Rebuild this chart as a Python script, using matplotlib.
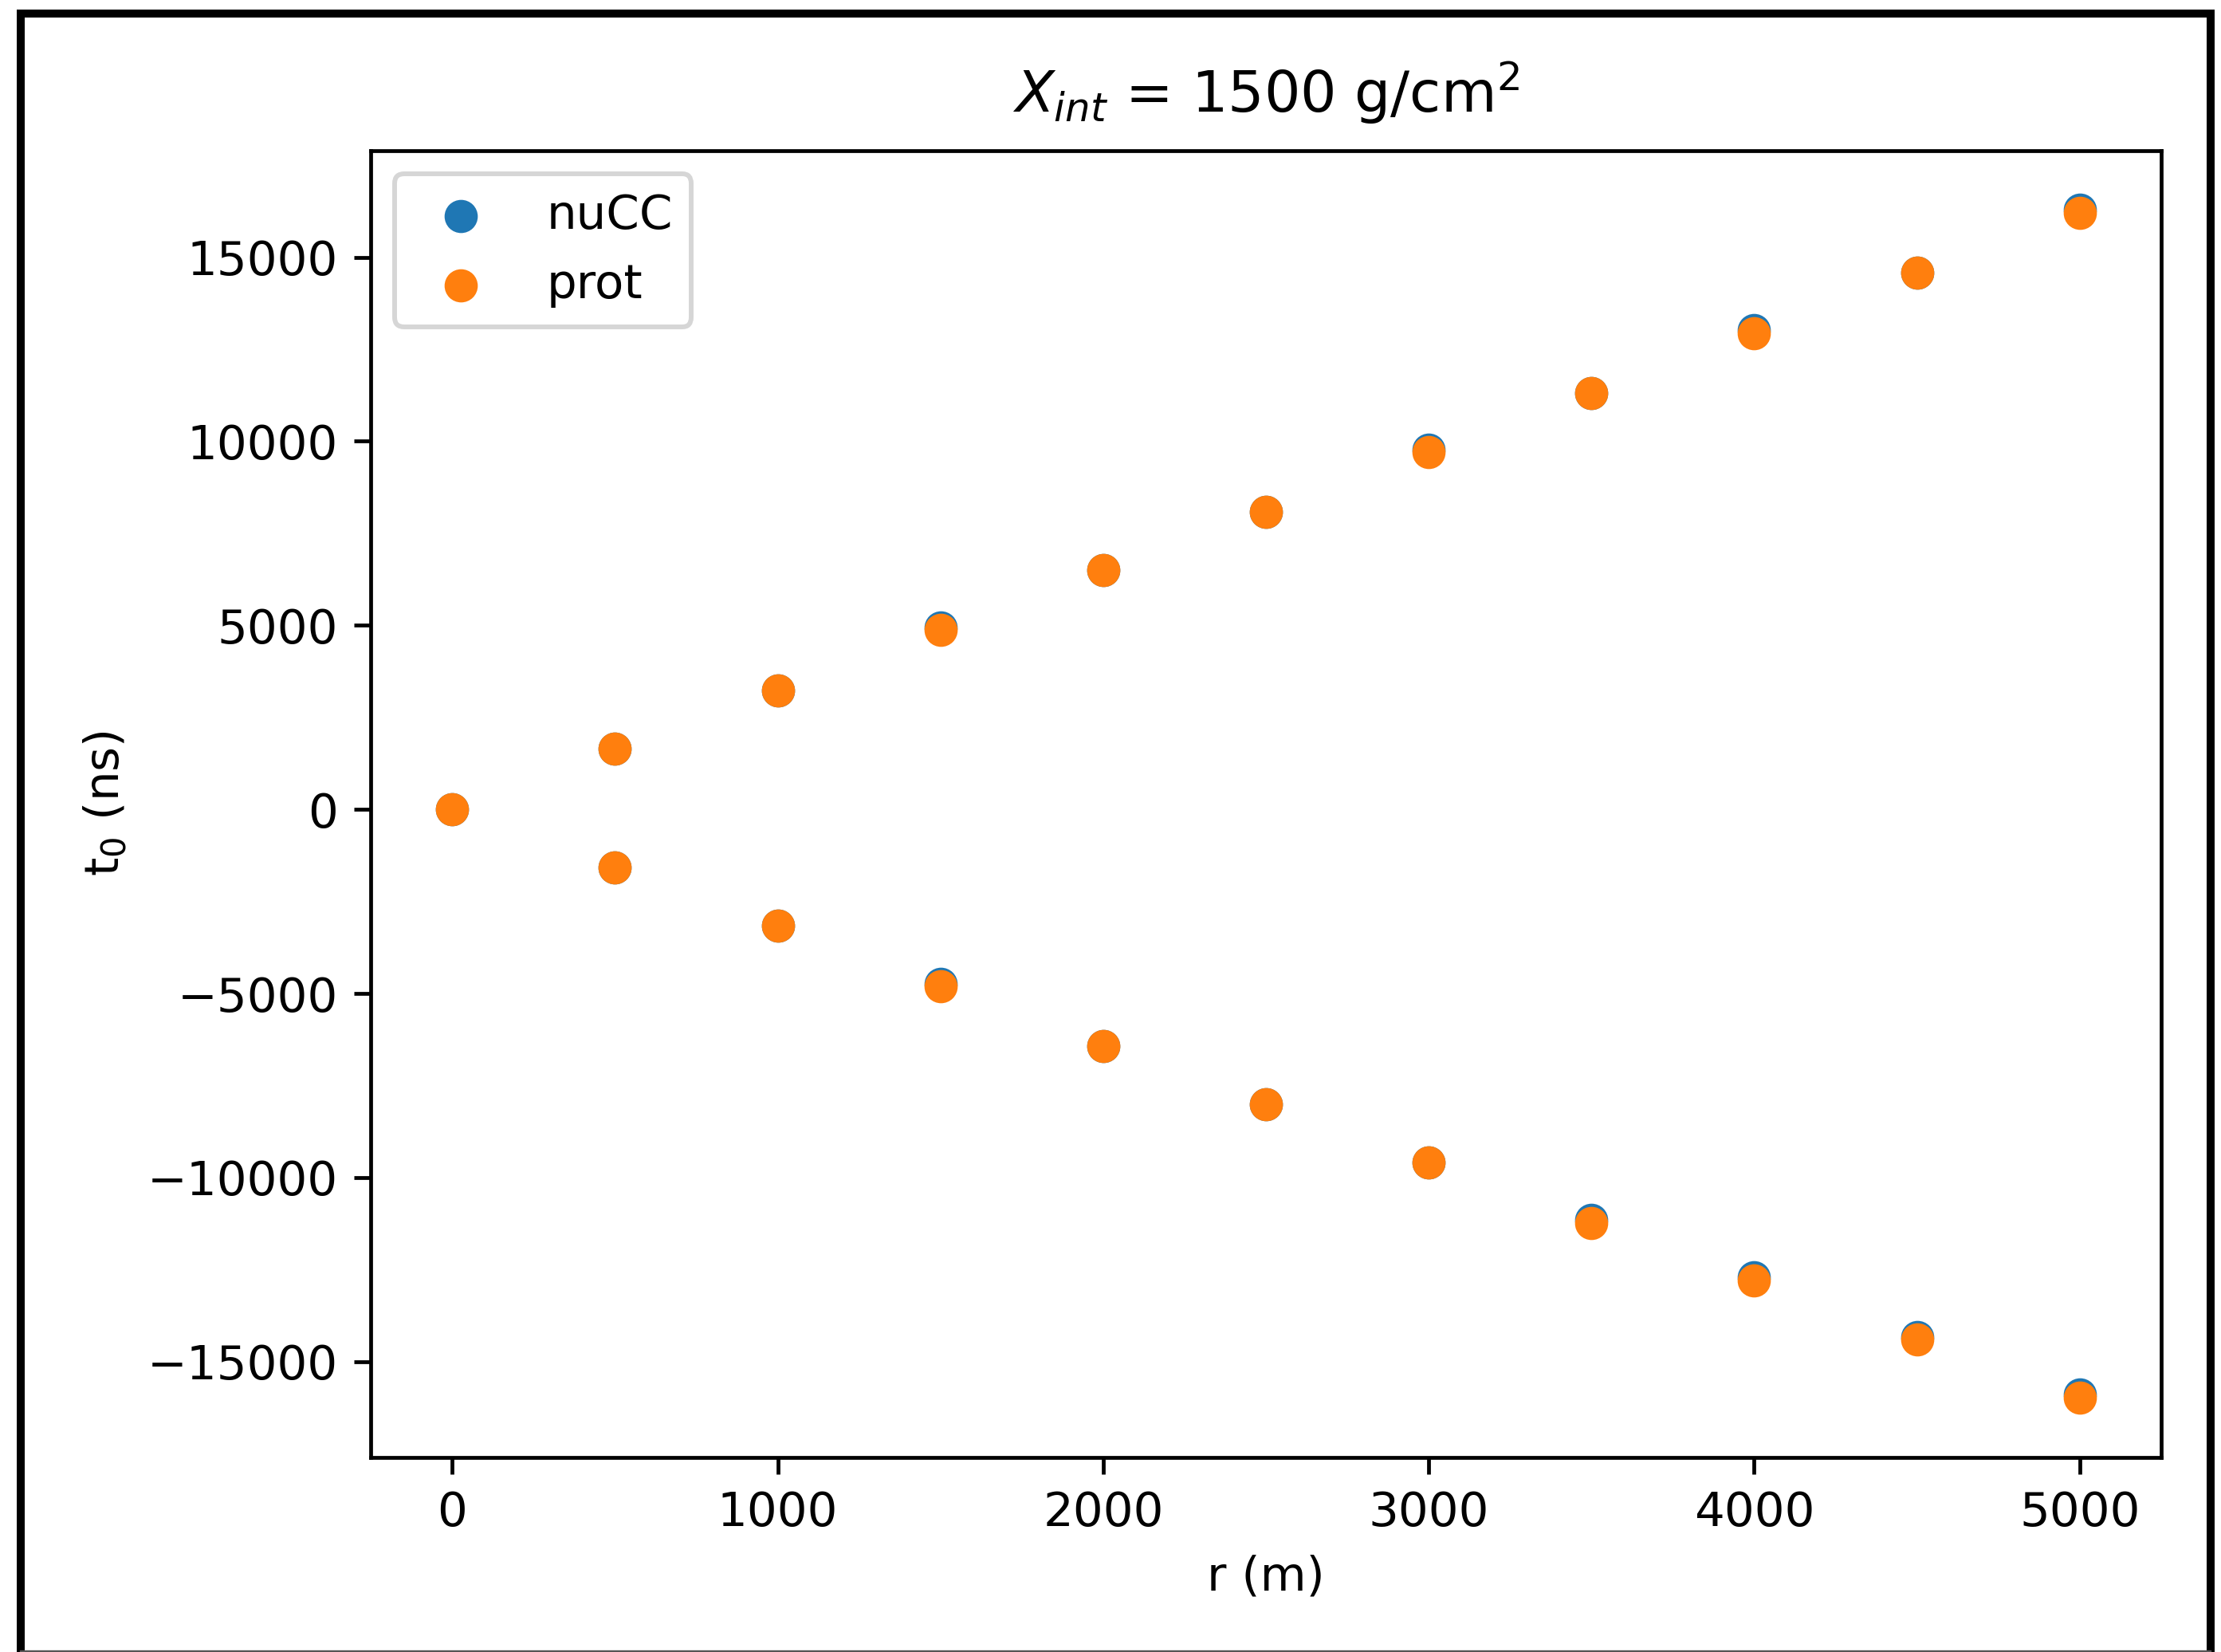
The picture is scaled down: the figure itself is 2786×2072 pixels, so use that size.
import matplotlib
matplotlib.use("Agg")
import matplotlib.pyplot as plt
from matplotlib.lines import Line2D

# r positions (m): shower core at 0, then both sides of the axis
r_up = [0, 500, 1000, 1500, 2000, 2500, 3000, 3500, 4000, 4500, 5000]
r_down = [500, 1000, 1500, 2000, 2500, 3000, 3500, 4000, 4500, 5000]

# t0 (ns)
prot_up = [0, 1650, 3240, 4880, 6500, 8080, 9700, 11320, 12940, 14590, 16210]
prot_down = [-1580, -3160, -4810, -6430, -8010, -9590, -11240, -12790, -14400, -15980]

nucc_up = [0, 1650, 3240, 4950, 6500, 8080, 9780, 11320, 13020, 14590, 16290]
nucc_down = [-1580, -3160, -4730, -6430, -8010, -9590, -11160, -12710, -14330, -15900]

r = r_up + r_down
t_nucc = nucc_up + nucc_down
t_prot = prot_up + prot_down

W, H = 2786, 2072
DPI = 428
fig = plt.figure(figsize=(W / DPI, H / DPI), dpi=DPI)
ax = fig.add_axes([0.167, 0.118, 0.806, 0.791])

ax.scatter(r, t_nucc, label='nuCC')
ax.scatter(r, t_prot, label='prot')
ax.set_title(r'$X_{int}$ = 1500 g/cm$^2$', pad=8)
ax.set_xlabel('r (m)')
ax.set_ylabel(r't$_0$ (ns)')
ax.legend(loc='upper left')

# black frame around the screenshot (bottom edge cut off)
lw = 10 / DPI * 72
xl, xr, yt = 26 / W, 2773 / W, 1 - 17 / H
fig.add_artist(Line2D([xl, xl], [0, yt], transform=fig.transFigure,
                      color='black', lw=lw, solid_capstyle='projecting'))
fig.add_artist(Line2D([xr, xr], [0, yt], transform=fig.transFigure,
                      color='black', lw=lw, solid_capstyle='projecting'))
fig.add_artist(Line2D([xl, xr], [yt, yt], transform=fig.transFigure,
                      color='black', lw=lw, solid_capstyle='projecting'))
fig.add_artist(Line2D([xl, xr], [1 / H, 1 / H], transform=fig.transFigure,
                      color='#555555', lw=0.4))

fig.savefig('out.png', dpi=DPI)
